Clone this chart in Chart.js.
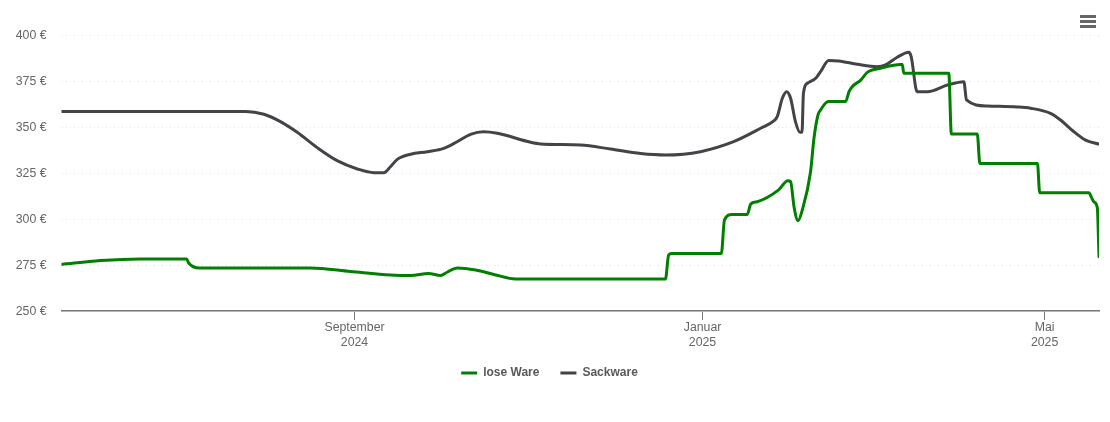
<!DOCTYPE html>
<html lang="de">
<head>
<meta charset="utf-8">
<title>Preisentwicklung</title>
<script src="https://cdn.jsdelivr.net/npm/chart.js@4"></script>
<style>
  html, body { margin: 0; padding: 0; background: #fff; }
  #wrap { width: 1100px; height: 422px; }
</style>
</head>
<body>
<div id="wrap"><canvas id="chart"></canvas></div>
<script>
// x values are days since the first day of the period
const loseDays = [0, 13.7, 27.7, 43.9, 44.6, 48.4, 87.4, 101.4, 115.4, 122.5, 128.8, 133, 135.4, 138.9, 145.3, 152.3, 159.3, 211.9, 213, 214, 231.5, 232.6, 235.3, 240.6, 241.8, 244.1, 251.6, 254.8, 255.8, 257, 258.4, 259.9, 262.8, 264, 265.4, 266.3, 269, 275.1, 276.3, 277.4, 280.4, 282.7, 287.4, 294.4, 295, 295.5, 311.3, 312.2, 321.3, 322.2, 342.4, 343.2, 360.5, 361.2, 362.3, 363.4, 364];
const losePrices = [275.3, 277.4, 278.3, 278.3, 276.1, 273.4, 273.4, 271.5, 269.6, 269.3, 270.4, 269.3, 271.2, 273.4, 272.3, 269.6, 267.4, 267.4, 280.4, 281.2, 281.2, 299.5, 302.5, 302.5, 308.1, 309.4, 315.8, 320.8, 320.3, 306.7, 299.1, 304.9, 325.7, 343.9, 356.5, 359.2, 363.8, 363.8, 369.2, 371.9, 375.5, 379.7, 381.9, 383.9, 383.9, 379.2, 379.2, 346.2, 346.2, 330.2, 330.2, 314.3, 314.3, 312.3, 309.2, 306.2, 279.5];

const sackDays = [0, 64.6, 71, 76.8, 82.7, 89.7, 96.7, 103.8, 109.6, 113.1, 115.4, 117.8, 122.5, 128.3, 134.1, 138.8, 143.5, 148.1, 152.9, 164.6, 168.1, 182.1, 192.6, 203.2, 211.9, 224.2, 235.8, 245.3, 249.9, 251.1, 252.9, 254.4, 255.8, 257.5, 259.1, 259.8, 260.3, 261.7, 264.6, 266.3, 269.2, 272.7, 279.2, 286.2, 289.1, 293.2, 297.3, 298.1, 300.2, 303.8, 310.8, 316.6, 317.5, 324.8, 335.3, 340, 347, 350.5, 355.2, 359.3, 364];
const sackPrices = [358.4, 358.4, 356.9, 352.9, 347.1, 338.8, 331.7, 327.2, 325.2, 325.2, 328.4, 332.4, 335.2, 336.6, 338.4, 342, 346, 347.4, 346.6, 341.7, 340.8, 340.2, 338, 335.6, 334.8, 336.6, 342, 349.3, 353.3, 355.6, 365.6, 369.2, 365.6, 352.9, 347.1, 347.1, 368.3, 373.8, 376.5, 380.1, 386.1, 385.9, 384.1, 382.8, 383.7, 387.9, 390.6, 388.2, 369.2, 369.2, 372.8, 374.6, 364.7, 361.4, 360.9, 360.2, 357.4, 353.8, 347.4, 342.9, 340.7];

const tickDays = [102.8, 224.9, 344.9];
const tickLabels = [['September', '2024'], ['Januar', '2025'], ['Mai', '2025']];

const toPoints = (days, prices) => days.map((d, i) => ({ x: d, y: prices[i] }));

// Menu icon in the upper right corner
const menuIcon = {
    id: 'menuIcon',
    afterDraw(chart) {
        const ctx = chart.ctx;
        ctx.save();
        ctx.strokeStyle = '#666';
        ctx.lineWidth = 3;
        [16.5, 21.5, 26.5].forEach(y => {
            ctx.beginPath();
            ctx.moveTo(1080, y);
            ctx.lineTo(1096, y);
            ctx.stroke();
        });
        ctx.restore();
    }
};

// The wide legend padding also adds space above the items, so move the legend up a bit
const legendShift = {
    id: 'legendShift',
    afterLayout(chart) {
        chart.legend.top -= 5;
        chart.legend.bottom -= 5;
    }
};

new Chart(document.getElementById('chart'), {
    type: 'line',
    data: {
        datasets: [
            { label: 'lose Ware', data: toPoints(loseDays, losePrices), borderColor: '#007f00', backgroundColor: '#007f00', borderWidth: 3 },
            { label: 'Sackware', data: toPoints(sackDays, sackPrices), borderColor: '#434348', backgroundColor: '#434348', borderWidth: 3 }
        ]
    },
    options: {
        responsive: true,
        maintainAspectRatio: false,
        animation: false,
        layout: { padding: { top: 35, right: 1, bottom: 28 } },
        elements: {
            point: { radius: 0 },
            line: { cubicInterpolationMode: 'monotone', borderCapStyle: 'round', borderJoinStyle: 'round' }
        },
        scales: {
            x: {
                type: 'linear',
                min: 0,
                max: 364,
                afterBuildTicks: axis => { axis.ticks = tickDays.map(v => ({ value: v })); },
                afterFit: axis => { axis.height = 40; },
                grid: { drawOnChartArea: false, drawTicks: true, tickLength: 9, color: '#777' },
                border: { color: '#777', width: 1.5 },
                ticks: {
                    autoSkip: false,
                    maxRotation: 0,
                    padding: 0,
                    color: '#666',
                    font: { family: 'Liberation Sans', size: 12.3, lineHeight: 1.2 },
                    callback: value => tickLabels[tickDays.indexOf(value)]
                }
            },
            y: {
                min: 250,
                max: 400,
                afterFit: axis => { axis.width = 61.5; },
                grid: { drawTicks: false, color: '#e6e6e6' },
                border: { display: false, dash: [1, 3] },
                ticks: {
                    stepSize: 25,
                    padding: 15,
                    labelOffset: 1,
                    color: '#666',
                    font: { family: 'Liberation Sans', size: 12.3 },
                    callback: value => value + ' €'
                }
            }
        },
        plugins: {
            tooltip: { enabled: false },
            legend: {
                position: 'bottom',
                labels: {
                    usePointStyle: true,
                    pointStyle: 'line',
                    pointStyleWidth: 16,
                    padding: 21,
                    color: '#595959',
                    font: { family: 'Liberation Sans', size: 12, weight: 'bold' }
                }
            }
        }
    },
    plugins: [menuIcon, legendShift]
});
</script>
</body>
</html>
